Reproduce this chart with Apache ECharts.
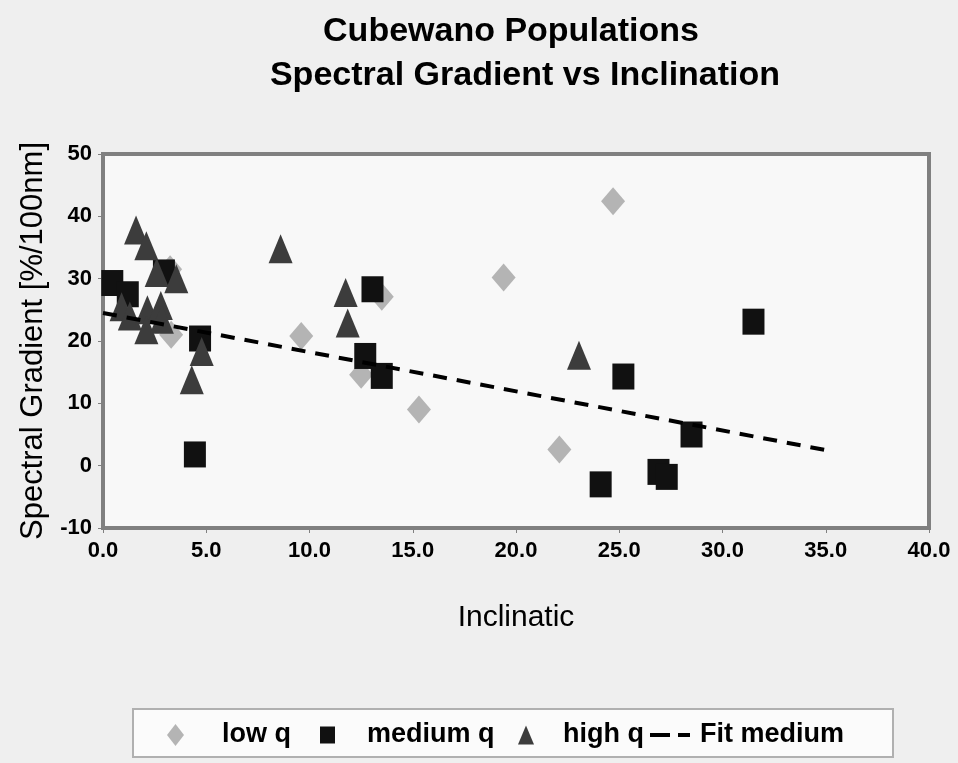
<!DOCTYPE html>
<html>
<head>
<meta charset="utf-8">
<script src="https://cdn.jsdelivr.net/npm/echarts@6/dist/echarts.min.js"></script>
<style>
  html, body { margin: 0; padding: 0; background: #efefef; }
  #chart { width: 958px; height: 763px; }
</style>
</head>
<body>
<div id="chart"></div>
<script>
// data: [inclination, spectral gradient]
const lowQ = [
  [3.25, 31.5], [3.3, 21.0], [9.6, 20.8], [12.5, 14.6], [13.5, 27.1],
  [15.3, 9.0], [19.4, 30.2], [22.1, 2.6], [24.7, 42.4]
]
const mediumQ = [
  [0.45, 29.3], [1.2, 27.5], [2.95, 31.0], [4.7, 20.4], [4.45, 1.8],
  [13.05, 28.3], [12.7, 17.6], [13.5, 14.4], [24.1, -3.0], [25.2, 14.3],
  [26.9, -1.0], [27.3, -1.8], [28.5, 5.0], [31.5, 23.1]
]
const highQ = [
  [1.6, 37.8], [2.1, 35.3], [2.6, 31.0], [3.55, 30.0], [0.9, 25.5],
  [1.3, 24.0], [2.15, 25.0], [2.1, 21.8], [2.8, 25.7], [2.85, 23.5],
  [4.78, 18.3], [4.3, 13.8], [8.6, 34.8], [11.75, 27.8], [11.85, 22.9],
  [23.05, 17.7]
]
const fitMedium = [[0, 24.5], [35, 2.5]]

const xTicks = { min: 0, max: 40, interval: 5 }
const yTicks = { min: -10, max: 50, interval: 10 }

let myChart = echarts.init(document.getElementById('chart'))

const font = 'Arial, "Liberation Sans", sans-serif'
const legendText = { fontFamily: font, fontSize: 27, fontWeight: 'bold', color: '#000', lineHeight: 28 }

// one legend per entry so each icon / label sits where the original has it
// (text is taller than the icons, so all share the same top)
function legendItem(name, icon, left, w, h, gap) {
  return {
    left: left, top: 721,
    padding: 0,
    itemWidth: w, itemHeight: h,
    z: 6,
    textStyle: Object.assign({}, legendText, { padding: [0, 0, 0, gap] }),
    data: [{ name: name, icon: icon }]
  }
}

const option = {
  backgroundColor: '#efefef',
  animation: false,
  title: [
    {
      text: 'Cubewano Populations',
      left: 506, top: 10, textAlign: 'center',
      textStyle: { fontFamily: font, fontSize: 34, fontWeight: 'bold', color: '#000' }
    },
    {
      text: 'Spectral Gradient vs Inclination',
      left: 520, top: 54, textAlign: 'center',
      textStyle: { fontFamily: font, fontSize: 34, fontWeight: 'bold', color: '#000' }
    }
  ],
  graphic: [
    {
      type: 'rect', z: 1,
      shape: { x: 133, y: 709, width: 760, height: 48 },
      style: { fill: '#fbfbfb', stroke: '#b0b0b0', lineWidth: 2 }
    }
  ],
  grid: {
    left: 103, top: 154, width: 826, height: 374,
    show: true,
    backgroundColor: '#f8f8f8',
    borderColor: '#808080',
    borderWidth: 4
  },
  legend: [
    legendItem('low q', 'diamond', 167, 17, 22, 33),
    legendItem('medium q', 'rect', 320, 15, 17, 27),
    legendItem('high q', 'triangle', 518, 16, 19, 24),
    legendItem('Fit medium', 'path://M0,0H20V4H0Z M28,0H40V4H28Z', 650, 40, 4, 5)
  ],
  xAxis: {
    type: 'value',
    min: xTicks.min, max: xTicks.max, interval: xTicks.interval,
    name: 'Inclinatic',
    nameLocation: 'middle',
    nameGap: 75,
    nameTextStyle: { fontFamily: font, fontSize: 30, color: '#000' },
    axisLine: { show: true, onZero: false, lineStyle: { color: '#808080', width: 4 } },
    axisTick: { show: true, inside: false, length: 5, lineStyle: { color: '#808080', width: 1 } },
    axisLabel: {
      fontFamily: font, fontSize: 22, fontWeight: 'bold', color: '#000', margin: 12,
      formatter: v => v.toFixed(1)
    },
    splitLine: { show: false }
  },
  yAxis: {
    type: 'value',
    min: yTicks.min, max: yTicks.max, interval: yTicks.interval,
    name: 'Spectral Gradient [%/100nm]',
    nameLocation: 'middle',
    nameGap: 50,
    nameRotate: 90,
    nameTextStyle: { fontFamily: font, fontSize: 31, color: '#000' },
    axisLine: { show: true, onZero: false, lineStyle: { color: '#808080', width: 4 } },
    axisTick: { show: true, inside: false, length: 5, lineStyle: { color: '#808080', width: 1 } },
    axisLabel: { fontFamily: font, fontSize: 22, fontWeight: 'bold', color: '#000', margin: 11 },
    splitLine: { show: false }
  },
  series: [
    {
      name: 'low q', type: 'scatter', data: lowQ,
      symbol: 'diamond', symbolSize: [24, 28],
      itemStyle: { color: '#b4b4b4', opacity: 1 }, z: 2
    },
    {
      name: 'medium q', type: 'scatter', data: mediumQ,
      symbol: 'rect', symbolSize: [22, 26],
      itemStyle: { color: '#111111', opacity: 1 }, z: 3
    },
    {
      name: 'high q', type: 'scatter', data: highQ,
      symbol: 'triangle', symbolSize: [24, 29],
      itemStyle: { color: '#3c3c3c', opacity: 1 }, z: 4
    },
    {
      name: 'Fit medium', type: 'line', data: fitMedium,
      symbol: 'none', z: 5,
      lineStyle: { color: '#000', width: 4, type: [14, 10] },
      itemStyle: { color: '#000' }
    }
  ]
}

myChart.setOption(option)
window.onresize = function () {
  myChart.resize()
}
</script>
</body>
</html>
